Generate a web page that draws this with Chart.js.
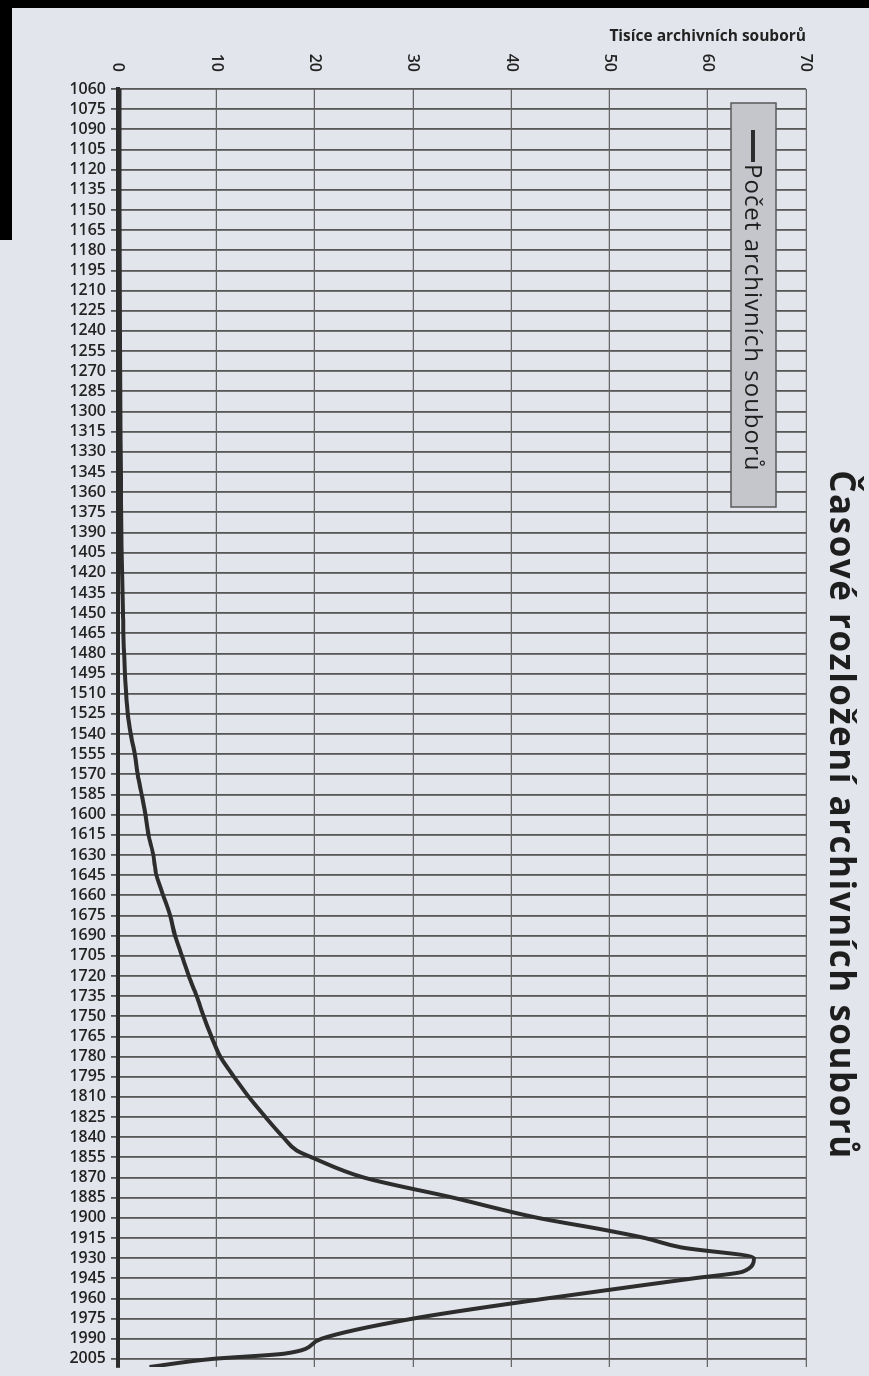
<!DOCTYPE html>
<html>
<head>
<meta charset="utf-8">
<script src="https://cdn.jsdelivr.net/npm/chart.js@4.4.1/dist/chart.umd.min.js"></script>
<style>
  body { margin: 0; background: #e3e5ec; width: 869px; height: 1376px; overflow: hidden; position: relative; }
  /* the chart is drawn lying down and turned 90deg clockwise, like the scan */
  #turn { position: absolute; left: 0; top: 0; width: 1376px; height: 869px;
          transform-origin: 0 0; transform: translate(869px, 0) rotate(90deg); }
  .edge { position: absolute; background: #000; }
</style>
</head>
<body>
<div id="turn"><canvas id="myChart" width="1376" height="869"></canvas></div>
<div class="edge" style="left:0;top:0;width:869px;height:8px"></div>
<div class="edge" style="left:0;top:0;width:12px;height:240px"></div>
<script>
console.log("linked");

const years = [1060, 1150, 1250, 1350, 1400, 1450, 1500, 1525, 1540, 1555, 1570, 1585, 1600, 1615, 1630, 1645,
  1660, 1675, 1690, 1705, 1720, 1735, 1750, 1765, 1780, 1795, 1810, 1825, 1840, 1850, 1855, 1870, 1885, 1900,
  1909, 1915, 1922, 1930, 1940, 1945, 1960, 1975, 1990, 2001, 2005, 2011];
const counts = [0.15, 0.15, 0.2, 0.3, 0.35, 0.5, 0.75, 1.0, 1.3, 1.7, 2.0, 2.4, 2.8, 3.1, 3.6, 3.9,
  4.6, 5.3, 5.8, 6.5, 7.2, 8.0, 8.7, 9.5, 10.4, 11.8, 13.3, 15.0, 16.8, 18.2, 19.7, 25.0, 34.1, 42.7,
  49.5, 53.6, 57.3, 64.7, 63.6, 58.6, 43.6, 30.0, 20.7, 17.0, 9.6, 3.2];

const yearTicks = [1060, 1075, 1090, 1105, 1120, 1135, 1150, 1165, 1180, 1195, 1210, 1225, 1240, 1255, 1270,
  1285, 1300, 1315, 1330, 1345, 1360, 1375, 1390, 1405, 1420, 1435, 1450, 1465, 1480, 1495, 1510, 1525, 1540,
  1555, 1570, 1585, 1600, 1615, 1630, 1645, 1660, 1675, 1690, 1705, 1720, 1735, 1750, 1765, 1780, 1795, 1810,
  1825, 1840, 1855, 1870, 1885, 1900, 1915, 1930, 1945, 1960, 1975, 1990, 2005];

const chartTitle = "Časové rozložení archivních souborů";
const axisTitle = "Tisíce archivních souborů";
const seriesName = "Počet archivních souborů";

Chart.defaults.font.family = '"Open Sans", sans-serif';
Chart.defaults.color = "#222";

// title and the grey legend box
const extras = {
  id: "extras",
  afterDraw(chart) {
    const ctx = chart.ctx;
    const area = chart.chartArea;
    const ds = chart.data.datasets[0];

    ctx.save();
    ctx.font = 'bold 35px "Open Sans"';
    ctx.letterSpacing = "1.5px";
    ctx.fillStyle = "#1e1e1e";
    ctx.textAlign = "center";
    ctx.textBaseline = "alphabetic";
    ctx.fillText(chartTitle, 815, 39);

    const bx = area.left + 14, by = area.top + 30;
    ctx.fillStyle = "#c5c6cc";
    ctx.fillRect(bx, by, 404, 45);
    ctx.strokeStyle = "#5a5a5a";
    ctx.lineWidth = 1.5;
    ctx.strokeRect(bx, by, 404, 45);

    ctx.strokeStyle = ds.borderColor;
    ctx.lineWidth = 4;
    ctx.beginPath();
    ctx.moveTo(bx + 27, by + 23);
    ctx.lineTo(bx + 59, by + 23);
    ctx.stroke();

    ctx.fillStyle = "#1e1e1e";
    ctx.font = '24px "Open Sans"';
    ctx.letterSpacing = "1px";
    ctx.textAlign = "left";
    ctx.fillText(seriesName, bx + 61, by + 31);
    ctx.restore();
  }
};

const ctx = document.getElementById("myChart");

const myChart = new Chart(ctx, {
  type: "line",
  data: {
    datasets: [
      {
        label: seriesName,
        data: years.map((y, i) => ({ x: y, y: counts[i] })),
        borderColor: "#2d2d2d",
        borderWidth: 4,
        pointRadius: 0,
        cubicInterpolationMode: "monotone",
        fill: false,
      },
    ],
  },
  options: {
    responsive: false,
    animation: false,
    layout: { padding: { top: 63, right: 9, left: 0, bottom: 0 } },
    plugins: {
      legend: { display: false },
      title: { display: false },
      tooltip: { enabled: false },
    },
    scales: {
      x: {
        type: "linear",
        min: 1060,
        max: 2011,
        afterBuildTicks: (scale) => {
          scale.ticks = yearTicks.map((v) => ({ value: v }));
        },
        afterFit: (scale) => {
          scale.height = 118;
          scale.paddingLeft = 0;
          scale.paddingRight = 0;
        },
        ticks: {
          autoSkip: false,
          minRotation: 90,
          maxRotation: 90,
          padding: 5,
          font: { size: 16, weight: "600" },
          color: "#222",
          callback: (v) => String(v),
        },
        grid: {
          color: "#575757",
          lineWidth: 1.8,
          tickLength: 7,
          tickColor: "#575757",
          tickWidth: 1.8,
        },
        border: { display: true, color: "#2b2b2b", width: 4 },
      },
      y: {
        min: 0,
        max: 70,
        afterFit: (scale) => {
          scale.width = 89;
        },
        ticks: {
          stepSize: 10,
          padding: 17,
          font: { size: 16, weight: "600" },
          color: "#222",
        },
        grid: { color: "#666", lineWidth: 1.3, drawTicks: false },
        border: { display: false },
        title: {
          display: true,
          text: axisTitle,
          align: "end",
          padding: { top: 27, bottom: 0 },
          font: { size: 15.5, weight: "bold" },
          color: "#222",
        },
      },
    },
  },
  plugins: [extras],
});
</script>
</body>
</html>
